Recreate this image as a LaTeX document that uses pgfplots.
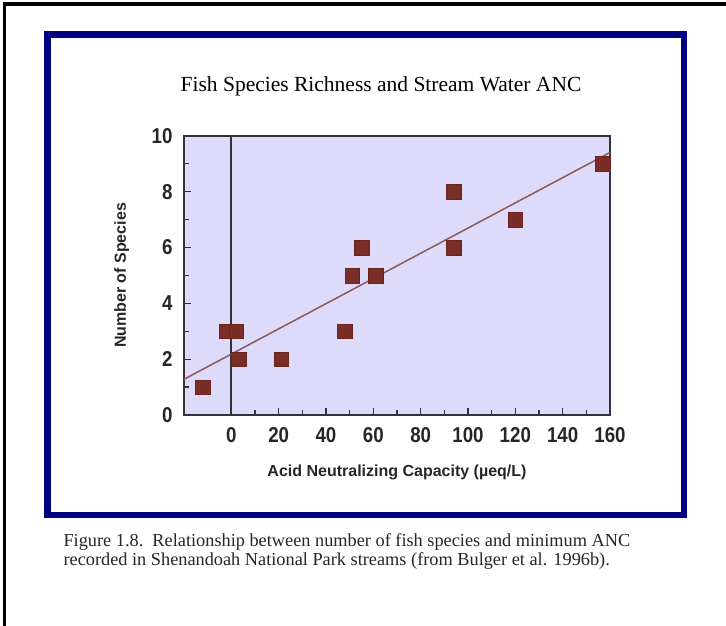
\documentclass[border=0pt]{standalone}
\usepackage{fontspec}
\setmainfont{Liberation Serif}
\setsansfont{Liberation Sans}
\newfontfamily\tickfont{Liberation Sans}[FakeStretch=0.87]
\usepackage{pgfplots}
\pgfplotsset{compat=1.18}
\definecolor{lav}{RGB}{222,219,250}
\definecolor{markc}{RGB}{122,45,38}
\definecolor{fitline}{RGB}{140,90,92}
\definecolor{navyb}{RGB}{0,0,128}
\definecolor{axgray}{RGB}{50,50,60}
\begin{document}
\begin{tikzpicture}[x=1pt,y=1pt]
\useasboundingbox (0,0) rectangle (726,626);
\fill[white] (0,0) rectangle (726,626);
\draw[black, line width=3.5pt] (726,622) -- (4.5,622) -- (4.5,0);
\draw[navyb, line width=6.5pt] (47.5,591.5) rectangle (684,111);
\node[font=\fontsize{21.5}{24}\selectfont] at (381,540) {Fish Species Richness and Stream Water ANC};
\node[anchor=base west, font=\fontsize{18.3}{20}\selectfont, text=black!85] at (60,79) {Figure 1.8.\ \ Relationship between number of fish species and minimum ANC};
\node[anchor=base west, font=\fontsize{18.3}{20}\selectfont, text=black!85] at (60,60) {recorded in Shenandoah National Park streams (from Bulger et al. 1996b).};
\begin{axis}[
  at={(184pt,211pt)}, anchor=south west,
  scale only axis, width=426pt, height=279pt,
  xmin=-20, xmax=160, ymin=0, ymax=10,
  axis background/.style={fill=lav},
  axis line style={axgray, line width=1.4pt},
  xtick={0,20,...,160}, minor xtick={10,30,...,150},
  ytick={0,2,...,10}, minor ytick={1,3,...,9},
  xtick pos=bottom, ytick pos=left, tick align=inside,
  major tick length=7pt, minor tick length=5pt,
  tick style={axgray, line width=1.2pt},
  /pgf/number format/assume math mode=true,
  ticklabel style={font=\tickfont\bfseries\fontsize{21.5}{21.5}\selectfont, text=black!85},
  xticklabel style={yshift=-9pt},
  yticklabel style={xshift=-8pt},
  xlabel={Acid Neutralizing Capacity (µeq/L)},
  ylabel={Number of Species},
  label style={font=\sffamily\bfseries\fontsize{16}{16}\selectfont, text=black!85},
  xlabel style={at={(axis description cs:0.5,-0.207)}, anchor=center},
  ylabel style={at={(axis description cs:-0.146,0.5)}, anchor=center},
  clip=false,
]
\addplot[axgray, line width=2.2pt] coordinates {(0,0) (0,10)};
\addplot[fitline, line width=1.5pt] coordinates {(-20,1.28) (160,9.41)};
\addplot[only marks, mark=square*, mark size=7.3pt, mark options={fill=markc, draw=markc!85!black, line width=0.4pt}] coordinates {
(-12,1) (-2,3) (2,3) (3,2) (21,2) (48,3) (51,5) (55,6) (61,5) (94,8) (94,6) (120,7) (157,9)
};
\end{axis}
\end{tikzpicture}
\end{document}
